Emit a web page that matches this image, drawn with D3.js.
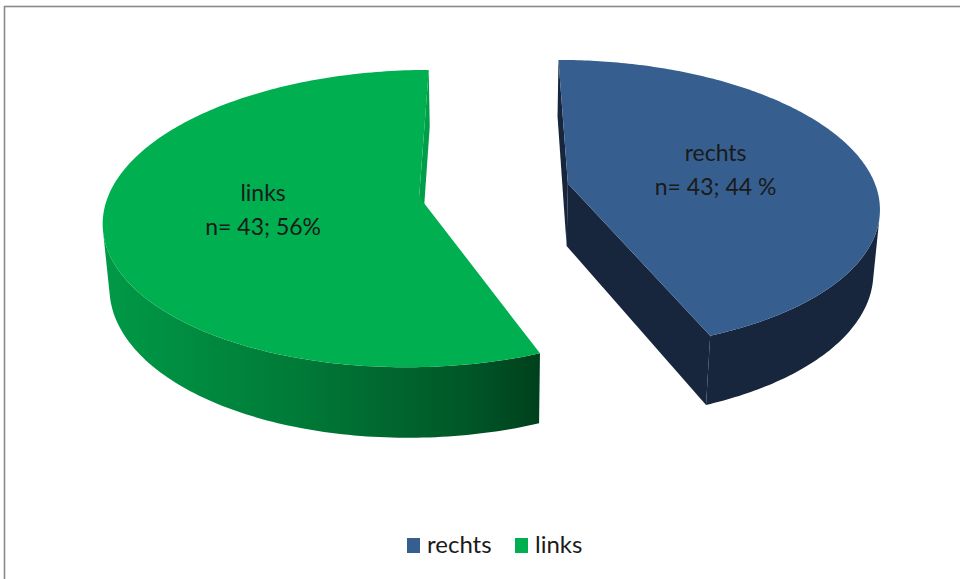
<!DOCTYPE html>
<html>
<head>
<meta charset="utf-8">
<script src="https://cdn.jsdelivr.net/npm/d3@7"></script>
<style>
  body { margin: 0; background: #fff; }
  svg { display: block; font-family: Lato, "Open Sans", sans-serif; }
</style>
</head>
<body>
<script>
/* data */
var categories = ["rechts", "links"];
var percents = [44, 56];
var labels = ["n= 43; 44 %", "n= 43; 56%"];

/* constants */
var WIDTH = 960, HEIGHT = 579;
var topColors = ["#365F8F", "#00AF50"];
var wallColors = ["#17263D", "#00A04A"];

// 3d view of the disk (radius 1)
var ALPHA = 27 * Math.PI / 180;
var cosA = Math.cos(ALPHA), sinA = Math.sin(ALPHA);
var DIST = 6.07, FOCAL = 1918, XSCALE = 0.978;
var DEPTH = 0.227, EXPLODE = 0.245;
var CX = 494, CY = 190;
var camera = [0, DIST * sinA, DIST * cosA];

function project(x, y, z) {
  var v = y * cosA - z * sinA;
  var d = DIST - z * cosA - y * sinA;
  return [CX + XSCALE * FOCAL * x / d, CY - FOCAL * v / d];
}

var svg = d3.select("body").append("svg")
    .attr("width", WIDTH)
    .attr("height", HEIGHT);

var defs = svg.append("defs");
var grad = defs.append("linearGradient")
    .attr("id", "greenWall")
    .attr("gradientUnits", "userSpaceOnUse")
    .attr("x1", 100).attr("x2", 540).attr("y1", 0).attr("y2", 0);
grad.append("stop").attr("offset", 0).attr("stop-color", "#009A48");
grad.append("stop").attr("offset", 0.45).attr("stop-color", "#007A37");
grad.append("stop").attr("offset", 0.85).attr("stop-color", "#005527");
grad.append("stop").attr("offset", 1).attr("stop-color", "#00401C");

// frame
svg.append("rect")
    .attr("x", 4.5).attr("y", 6.5)
    .attr("width", 1000).attr("height", 1000)
    .attr("fill", "none")
    .attr("stroke", "#8a8a8a")
    .attr("stroke-width", 1.6);

var pie = d3.pie().sort(null).startAngle(0).endAngle(2 * Math.PI);
var arcs = pie(percents);

var line = d3.line();
var chart = svg.append("g");

arcs.forEach(function(a, i) {
  var mid = (a.startAngle + a.endAngle) / 2;
  var ox = EXPLODE * Math.sin(mid), oz = -EXPLODE * Math.cos(mid);
  var pt = function(t, r, y) { return project(ox + r * Math.sin(t), y, oz - r * Math.cos(t)); };
  var facing = function(n, p) {
    return n[0] * (camera[0] - p[0]) + n[2] * (camera[2] - p[2]) + n[1] * (camera[1] - p[1]) > 0;
  };
  var g = chart.append("g").attr("class", "slice");

  // radial walls
  [[a.startAngle, -1], [a.endAngle, 1]].forEach(function(w) {
    var t = w[0], s = w[1];
    var n = [s * Math.cos(t), 0, s * Math.sin(t)];
    if (!facing(n, [ox, 0, oz])) return;
    var pts = [pt(t, 0, 0), pt(t, 1, 0), pt(t, 1, -DEPTH), pt(t, 0, -DEPTH)];
    g.append("path")
        .attr("d", line(pts) + "Z")
        .attr("fill", i === 1 ? "#009E49" : wallColors[i]);
  });

  // outer curved wall, visible runs only
  var steps = 200, run = [], runs = [];
  for (var k = 0; k <= steps; k++) {
    var t = a.startAngle + (a.endAngle - a.startAngle) * k / steps;
    var n = [Math.sin(t), 0, -Math.cos(t)];
    var p = [ox + n[0], 0, oz + n[2]];
    if (facing(n, p) || facing(n, [p[0], -DEPTH, p[2]])) run.push(t);
    else if (run.length) { runs.push(run); run = []; }
  }
  if (run.length) runs.push(run);
  runs.forEach(function(r) {
    var topPts = r.map(function(t) { return pt(t, 1, 0); });
    var botPts = r.map(function(t) { return pt(t, 1, -DEPTH); }).reverse();
    g.append("path")
        .attr("d", line(topPts.concat(botPts)) + "Z")
        .attr("fill", i === 1 ? "url(#greenWall)" : wallColors[i]);
  });

  // top face
  var face = [pt(a.startAngle, 0, 0)];
  for (var k = 0; k <= steps; k++) {
    face.push(pt(a.startAngle + (a.endAngle - a.startAngle) * k / steps, 1, 0));
  }
  g.append("path")
      .attr("d", line(face) + "Z")
      .attr("fill", topColors[i]);

  // label
  var lp = pt(mid, 0.5, 0);
  var txt = g.append("text")
      .attr("x", lp[0])
      .attr("y", lp[1])
      .attr("text-anchor", "middle")
      .attr("font-size", 23)
      .attr("fill", "#1a1a1a");
  txt.append("tspan").attr("x", lp[0]).attr("dy", "-0.4em").text(categories[i]);
  txt.append("tspan").attr("x", lp[0]).attr("dy", "1.45em").text(labels[i]);
});

// legend
var legend = svg.append("g").attr("transform", "translate(407,538)");
var lx = [0, 108];
categories.forEach(function(c, i) {
  var item = legend.append("g").attr("transform", "translate(" + lx[i] + ",0)");
  item.append("rect").attr("width", 13).attr("height", 15).attr("fill", topColors[i]);
  item.append("text")
      .attr("x", 20).attr("y", 15)
      .attr("font-size", 24)
      .attr("fill", "#1a1a1a")
      .text(c);
});
</script>
</body>
</html>
